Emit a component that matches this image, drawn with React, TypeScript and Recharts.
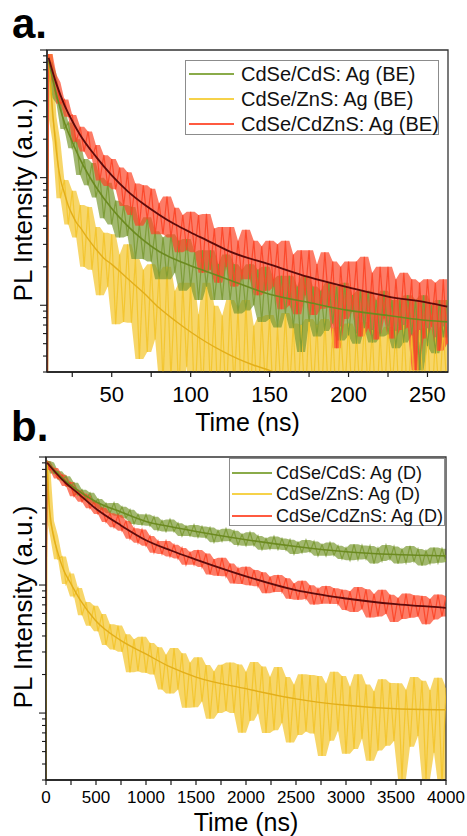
import React from 'react';
import { ComposedChart, Line, Area, XAxis, YAxis, ReferenceArea } from 'recharts';

const FONT = '"Liberation Sans", Arial, Helvetica, sans-serif';

// ---------- Panel a (band-edge emission, 0-263 ns) ----------
const timeA = [9.3, 10, 12.5, 15, 17.5, 20, 22.5, 25, 27.5, 30, 32.5, 35, 37.5, 40, 42.5, 45, 47.5, 50, 52.5, 55, 57.5, 60, 62.5, 65, 67.5, 70, 72.5, 75, 77.5, 80, 82.5, 85, 87.5, 90, 92.5, 95, 97.5, 100, 102.5, 105, 107.5, 110, 112.5, 115, 117.5, 120, 122.5, 125, 127.5, 130, 132.5, 135, 137.5, 140, 142.5, 145, 147.5, 150, 152.5, 155, 157.5, 160, 162.5, 165, 167.5, 170, 172.5, 175, 177.5, 180, 182.5, 185, 187.5, 190, 192.5, 195, 197.5, 200, 202.5, 205, 207.5, 210, 212.5, 215, 217.5, 220, 222.5, 225, 227.5, 230, 232.5, 235, 237.5, 240, 242.5, 245, 247.5, 250, 252.5, 255, 257.5, 260, 262.5];

const cdsA = [0.002, 0.80, 0.65, 0.42, 0.38, 0.24, 0.27, 0.17, 0.20, 0.105, 0.14,
  0.087, 0.13, 0.070, 0.10, 0.048, 0.091, 0.043, 0.066, 0.034, 0.061,
  0.035, 0.059, 0.023, 0.043, 0.023, 0.049, 0.022, 0.038, 0.016, 0.034,
  0.016, 0.036, 0.018, 0.032, 0.013, 0.033, 0.014, 0.026, 0.011, 0.027,
  0.014, 0.027, 0.011, 0.021, 0.011, 0.025, 0.011, 0.021, 0.0086, 0.019,
  0.0091, 0.021, 0.010, 0.019, 0.0074, 0.020, 0.0078, 0.016, 0.0067, 0.017,
  0.0086, 0.017, 0.0066, 0.014, 0.0043, 0.017, 0.0074, 0.014, 0.0057, 0.013,
  0.0063, 0.015, 0.0072, 0.014, 0.0053, 0.015, 0.0058, 0.012, 0.0050, 0.013,
  0.0066, 0.013, 0.0051, 0.011, 0.0057, 0.013, 0.0059, 0.011, 0.0046, 0.011,
  0.0051, 0.012, 0.0059, 0.011, 0.0031, 0.012, 0.0048, 0.0100, 0.0042, 0.011,
  0.0056, 0.011];

const znsA = [0.002, 0.93, 0.30, 0.19, 0.069, 0.096, 0.043, 0.079, 0.034, 0.061, 0.020,
  0.059, 0.019, 0.041, 0.012, 0.037, 0.014, 0.036, 0.0071, 0.025, 0.0074,
  0.030, 0.0073, 0.023, 0.0038, 0.019, 0.0043, 0.021, 0.0054, 0.018, 0.0024,
  0.020, 0.0027, 0.013, 0.0019, 0.015, 0.0033, 0.015, 0.0014, 0.0085, 0.0018,
  0.015, 0.0021, 0.0099, 0.0013, 0.0083, 0.0016, 0.011, 0.0022, 0.0095, 0.0013,
  0.011, 0.0016, 0.0069, 0.0013, 0.0081, 0.0021, 0.0084, 0.0014, 0.0068, 0.0018,
  0.0087, 0.0020, 0.0072, 0.0013, 0.0070, 0.0016, 0.0078, 0.0020, 0.0070, 0.0013,
  0.0078, 0.0016, 0.0066, 0.0013, 0.0068, 0.0019, 0.0072, 0.0014, 0.0060, 0.0018,
  0.0074, 0.0020, 0.0064, 0.0013, 0.0060, 0.0016, 0.0068, 0.0021, 0.0063, 0.0013,
  0.0070, 0.0016, 0.0058, 0.0013, 0.0064, 0.0021, 0.0066, 0.0014, 0.0056, 0.0018,
  0.0068, 0.0020];

const cdznsA = [0.002, 0.93, 0.64, 0.56, 0.38, 0.41, 0.30, 0.31, 0.19, 0.25, 0.16,
  0.23, 0.14, 0.18, 0.095, 0.15, 0.086, 0.14, 0.081, 0.12, 0.060,
  0.11, 0.051, 0.090, 0.042, 0.087, 0.047, 0.082, 0.036, 0.063, 0.036,
  0.071, 0.034, 0.058, 0.026, 0.051, 0.027, 0.054, 0.026, 0.051, 0.018,
  0.052, 0.019, 0.040, 0.015, 0.041, 0.020, 0.041, 0.014, 0.032, 0.016,
  0.039, 0.016, 0.032, 0.012, 0.029, 0.013, 0.032, 0.014, 0.030, 0.0093,
  0.032, 0.010, 0.025, 0.0085, 0.027, 0.012, 0.027, 0.0084, 0.021, 0.0094,
  0.026, 0.0097, 0.022, 0.0046, 0.020, 0.0078, 0.022, 0.0090, 0.022, 0.0057,
  0.024, 0.0066, 0.018, 0.0054, 0.020, 0.0079, 0.020, 0.0055, 0.016, 0.0064,
  0.018, 0.0067, 0.016, 0.0031, 0.015, 0.0055, 0.016, 0.0068, 0.015, 0.0044,
  0.016, 0.0050];

const fitTimeA = [10, 15, 20, 25, 30, 40, 50, 60, 70, 80, 90, 100, 110, 125, 150, 175, 200, 225, 250, 262.5];
const cdsFitA = [0.83, 0.447, 0.272, 0.191, 0.139, 0.0845, 0.0573, 0.0419, 0.0324, 0.0264, 0.0229, 0.0204, 0.0184, 0.0157, 0.0122, 0.0105, 0.00912, 0.00832, 0.00759, 0.00741];
const cdznsFitA = [0.87, 0.54, 0.372, 0.278, 0.216, 0.146, 0.104, 0.0785, 0.0624, 0.0513, 0.0431, 0.0372, 0.0324, 0.0263, 0.0209, 0.0166, 0.0138, 0.0117, 0.0105, 0.00977];
const znsFitTimeA = [10, 12.5, 15, 17.5, 20, 22.5, 25, 27.5, 30, 35, 40, 45, 50, 60, 70, 80, 90, 100, 110, 120, 130, 140, 150, 160, 175, 200];
const znsFitA = [0.87, 0.339, 0.158, 0.0977, 0.0759, 0.0603, 0.0513, 0.0447, 0.0407, 0.0331, 0.0275, 0.0234, 0.0209, 0.0162, 0.0126, 0.00955, 0.00759, 0.00617, 0.00513, 0.00437, 0.0038, 0.00339, 0.00309, 0.00275, 0.00234, 0.00182];

// ---------- Panel b (dopant emission, 0-4000 ns) ----------
const timeB = [0, 12, 40, 80, 120, 160, 200, 240, 280, 320, 360, 400, 440, 480, 520, 560, 600, 640, 680, 720, 760, 800, 840, 880, 920, 960, 1000, 1040, 1080, 1120, 1160, 1200, 1240, 1280, 1320, 1360, 1400, 1440, 1480, 1520, 1560, 1600, 1640, 1680, 1720, 1760, 1800, 1840, 1880, 1920, 1960, 2000, 2040, 2080, 2120, 2160, 2200, 2240, 2280, 2320, 2360, 2400, 2440, 2480, 2520, 2560, 2600, 2640, 2680, 2720, 2760, 2800, 2840, 2880, 2920, 2960, 3000, 3040, 3080, 3120, 3160, 3200, 3240, 3280, 3320, 3360, 3400, 3440, 3480, 3520, 3560, 3600, 3640, 3680, 3720, 3760, 3800, 3840, 3880, 3920, 3960, 4000];

const cdsB = [0.09, 0.93,
  0.906, 0.743, 0.773, 0.659, 0.708, 0.583, 0.628, 0.504, 0.555, 0.466,
  0.525, 0.433, 0.47, 0.39, 0.435, 0.364, 0.438, 0.348, 0.408, 0.333,
  0.387, 0.300, 0.357, 0.295, 0.356, 0.29, 0.342, 0.268, 0.318, 0.262,
  0.325, 0.262, 0.304, 0.242, 0.289, 0.242, 0.295, 0.236, 0.287, 0.234,
  0.281, 0.216, 0.267, 0.22, 0.275, 0.221, 0.265, 0.205, 0.249, 0.203,
  0.258, 0.204, 0.242, 0.189, 0.231, 0.191, 0.239, 0.19, 0.231, 0.188,
  0.226, 0.175, 0.216, 0.179, 0.225, 0.182, 0.219, 0.169, 0.207, 0.169,
  0.215, 0.171, 0.203, 0.16, 0.195, 0.156, 0.208, 0.158, 0.204, 0.16,
  0.202, 0.147, 0.194, 0.154, 0.205, 0.159, 0.2, 0.147, 0.19, 0.149,
  0.202, 0.153, 0.191, 0.142, 0.185, 0.147, 0.196, 0.149, 0.192, 0.151];

const znsB = [0.002, 0.88,
  0.316, 0.243, 0.159, 0.167, 0.102, 0.123, 0.0813, 0.0948, 0.0581, 0.0738,
  0.0481, 0.0689, 0.0435, 0.0593, 0.034, 0.0493, 0.0313, 0.0482, 0.0301, 0.0412,
  0.0208, 0.0377, 0.0212, 0.0394, 0.0206, 0.0353, 0.02, 0.0327, 0.0153, 0.0286,
  0.0142, 0.0322, 0.0153, 0.0293, 0.011, 0.0248, 0.0111, 0.0273, 0.0123, 0.0237,
  0.00902, 0.0212, 0.01, 0.0238, 0.0104, 0.0248, 0.01, 0.024, 0.00703, 0.021,
  0.00869, 0.025, 0.00991, 0.0231, 0.00698, 0.0192, 0.00735, 0.0229, 0.00838, 0.0191,
  0.0059, 0.0167, 0.00675, 0.0201, 0.00718, 0.0198, 0.00693, 0.0195, 0.00462, 0.017,
  0.00607, 0.021, 0.00723, 0.0195, 0.00481, 0.0161, 0.00525, 0.0201, 0.0063, 0.0167,
  0.00424, 0.0148, 0.00509, 0.0184, 0.00555, 0.0172, 0.00605, 0.0171, 0.00306, 0.0152,
  0.00546, 0.0191, 0.00661, 0.0179, 0.00303, 0.0151, 0.00491, 0.0189, 0.00274, 0.0158];

const cdznsB = [0.06, 0.93,
  0.792, 0.82, 0.678, 0.728, 0.594, 0.637, 0.493, 0.551, 0.447, 0.509,
  0.398, 0.445, 0.359, 0.402, 0.311, 0.364, 0.283, 0.352, 0.266, 0.317,
  0.23, 0.278, 0.214, 0.271, 0.203, 0.241, 0.179, 0.221, 0.175, 0.221,
  0.167, 0.206, 0.161, 0.195, 0.144, 0.18, 0.144, 0.188, 0.138, 0.176,
  0.121, 0.159, 0.118, 0.163, 0.117, 0.147, 0.103, 0.135, 0.102, 0.139,
  0.0995, 0.131, 0.0977, 0.126, 0.0863, 0.116, 0.0881, 0.12, 0.0883, 0.113,
  0.078, 0.103, 0.0767, 0.108, 0.0782, 0.0995, 0.0703, 0.0935, 0.0715, 0.0984,
  0.0713, 0.0944, 0.071, 0.092, 0.0638, 0.0893, 0.0617, 0.0964, 0.0647, 0.0927,
  0.0558, 0.0851, 0.0568, 0.0918, 0.0596, 0.0841, 0.0515, 0.0793, 0.0543, 0.0859,
  0.0555, 0.0832, 0.0568, 0.0822, 0.0493, 0.0778, 0.0538, 0.0843, 0.0568, 0.0817];

const fitTimeB = [12, 100, 200, 300, 500, 750, 1000, 1250, 1500, 2000, 2500, 3000, 3500, 4000];
const cdsFitB = [0.902, 0.767, 0.646, 0.562, 0.447, 0.372, 0.314, 0.285, 0.262, 0.226, 0.200, 0.182, 0.173, 0.169];
const cdznsFitB = [0.902, 0.750, 0.624, 0.537, 0.394, 0.292, 0.224, 0.186, 0.158, 0.117, 0.0912, 0.0785, 0.0708, 0.0664];
const znsFitTimeB = [12, 25, 43, 70, 110, 176, 250, 343, 493, 743, 993, 1243, 1500, 2000, 2500, 3000, 3500, 4000];
const znsFitB = [0.871, 0.501, 0.344, 0.251, 0.188, 0.131, 0.102, 0.0762, 0.0531, 0.0371, 0.0291, 0.0229, 0.0191, 0.0155, 0.0129, 0.0115, 0.0108, 0.0106];

// ---------- axes ----------
const yTicks = [0.003, 0.004, 0.005, 0.006, 0.007, 0.008, 0.009, 0.01, 0.02, 0.03, 0.04, 0.05, 0.06, 0.07, 0.08, 0.09, 0.1, 0.2, 0.3, 0.4, 0.5, 0.6, 0.7, 0.8, 0.9, 1];
const xTicksA = [25, 50, 75, 100, 125, 150, 175, 200, 225, 250];
const xTicksB = [0, 250, 500, 750, 1000, 1250, 1500, 1750, 2000, 2250, 2500, 2750, 3000, 3250, 3500, 3750, 4000];

const legendA = ['CdSe/CdS: Ag (BE)', 'CdSe/ZnS: Ag (BE)', 'CdSe/CdZnS: Ag (BE)'];
const legendB = ['CdSe/CdS: Ag (D)', 'CdSe/ZnS: Ag (D)', 'CdSe/CdZnS: Ag (D)'];

const COLORS = {
  cds: '#7b9a33',
  cdsFit: '#6b8a1f',
  cdsLegend: '#8aab4a',
  zns: '#f3c42a',
  znsFit: '#e3ae18',
  znsLegend: '#f6d24a',
  cdzns: '#fc4426',
  cdznsFit: '#5e0a0a',
  cdznsLegend: '#ff5a40',
};
const legendColors = [COLORS.cdsLegend, COLORS.znsLegend, COLORS.cdznsLegend];

const pts = (ts: number[], vs: number[]) =>
  ts.map((t, i) => ({ t, v: vs[i] })).filter((p) => typeof p.v === 'number');

// noisy trace + the envelope of each point's neighbourhood (from the same values)
const noisyPts = (ts: number[], vs: number[]) =>
  ts.map((t, i) => {
    const w: number[] = [];
    for (let k = i - 1; k <= i + 1; k++) {
      if (k >= 1 && k < vs.length) w.push(vs[k]);
    }
    return { t, v: vs[i], band: i >= 1 ? [Math.min(...w), Math.max(...w)] : null };
  });

const AXIS = '#1a1a1a';

function YTick(props: any) {
  const { x, y, payload } = props;
  const lg = Math.log10(payload.value);
  const major = Math.abs(lg - Math.round(lg)) < 1e-6;
  const len = major ? 7 : 4;
  return <line x1={x} x2={x - len} y1={y} y2={y} stroke={AXIS} strokeWidth={1.1} />;
}

function XTick(props: any) {
  const { x, y, payload, every, labelDy, labelSize } = props;
  const v = payload.value;
  const major = v % every === 0;
  return (
    <g>
      <line x1={x} x2={x} y1={y} y2={y + 5} stroke={AXIS} strokeWidth={1.2} />
      {major && (
        <text x={x} y={y + labelDy} textAnchor="middle" fontSize={labelSize} fontFamily={FONT} fill="#000">
          {v}
        </text>
      )}
    </g>
  );
}

const yTitle = (cy: number) => () => (
  <text
    transform={`translate(23, ${cy}) rotate(-90)`}
    textAnchor="middle"
    dominantBaseline="central"
    fontSize={26}
    fontFamily={FONT}
    fill="#000"
  >
    PL Intensity (a.u.)
  </text>
);

function LegendBox(props: { left: number; top: number; width: number; height: number; rows: number[]; names: string[]; fontSize: number; lineX: number; lineW: number; textX: number }) {
  const { left, top, width, height, rows, names, fontSize, lineX, lineW, textX } = props;
  return (
    <div
      style={{
        position: 'absolute', left, top, width, height, boxSizing: 'border-box',
        border: '1px solid #8c8c8c', background: '#fff',
      }}
    >
      {names.map((n, i) => (
        <React.Fragment key={n}>
          <div style={{ position: 'absolute', left: lineX, top: rows[i] - 1, width: lineW, height: 2, background: legendColors[i] }} />
          <div
            style={{
              position: 'absolute', left: textX, top: rows[i] - fontSize * 0.49, fontSize, lineHeight: `${fontSize}px`,
              fontFamily: FONT, color: '#111', whiteSpace: 'nowrap',
            }}
          >
            {n}
          </div>
        </React.Fragment>
      ))}
    </div>
  );
}

function NoisySeries(ts: number[], vs: number[], color: string, key: string) {
  const d = noisyPts(ts, vs);
  return [
    <Area
      key={key + '-band'} data={d} dataKey="band" type="linear" stroke="none" fill={color} fillOpacity={0.7}
      isAnimationActive={false} dot={false} activeDot={false} connectNulls={false}
    />,
    <Line
      key={key + '-line'} data={d} dataKey="v" type="linear" stroke={color} strokeWidth={1.2} strokeOpacity={0.9}
      isAnimationActive={false} dot={false} activeDot={false}
    />,
  ];
}

export default function App() {
  const fit = { type: 'monotone' as const, dataKey: 'v', dot: false, isAnimationActive: false };

  return (
    <div style={{ position: 'absolute', left: 0, top: 0, width: 467, height: 836, background: '#fff', fontFamily: FONT }}>
      {/* Panel a */}
      <div style={{ position: 'absolute', left: 0, top: 0 }}>
        <ComposedChart width={467} height={445} margin={{ top: 50, right: 19, bottom: 0, left: 0 }}>
          <XAxis
            type="number" dataKey="t" domain={[9, 263]} allowDataOverflow ticks={xTicksA} interval={0}
            tickSize={0} tickMargin={0} tickLine={false} height={73}
            axisLine={{ stroke: AXIS, strokeWidth: 1.3 }}
            tick={<XTick every={50} labelDy={30} labelSize={22} />}
            label={{ value: 'Time (ns)', position: 'insideBottom', offset: 14, fontSize: 25, fill: '#000', fontFamily: FONT }}
          />
          <YAxis
            type="number" scale="log" domain={[0.003, 1]} allowDataOverflow ticks={yTicks} interval={0}
            tickSize={0} tickMargin={0} tickLine={false} width={47}
            axisLine={{ stroke: AXIS, strokeWidth: 1.3 }}
            tick={<YTick />}
            label={{ content: yTitle(200) }}
          />
          {NoisySeries(timeA, znsA, COLORS.zns, 'znsA')}
          {NoisySeries(timeA, cdsA, COLORS.cds, 'cdsA')}
          {NoisySeries(timeA, cdznsA, COLORS.cdzns, 'cdznsA')}
          <Line {...fit} data={pts(znsFitTimeA, znsFitA)} stroke={COLORS.znsFit} strokeWidth={1.4} />
          <Line {...fit} data={pts(fitTimeA, cdsFitA)} stroke={COLORS.cdsFit} strokeWidth={1.6} />
          <Line {...fit} data={pts(fitTimeA, cdznsFitA)} stroke={COLORS.cdznsFit} strokeWidth={1.8} />
          <ReferenceArea x1={9} x2={263} y1={0.003} y2={1} fill="none" stroke="#333" strokeWidth={1.3} />
        </ComposedChart>
      </div>

      {/* Panel b */}
      <div style={{ position: 'absolute', left: 0, top: 445 }}>
        <ComposedChart width={467} height={391} margin={{ top: 12, right: 21, bottom: 0, left: 0 }}>
          <XAxis
            type="number" dataKey="t" domain={[0, 4000]} allowDataOverflow ticks={xTicksB} interval={0}
            tickSize={0} tickMargin={0} tickLine={false} height={56}
            axisLine={{ stroke: AXIS, strokeWidth: 1.3 }}
            tick={<XTick every={500} labelDy={23} labelSize={17} />}
            label={{ value: 'Time (ns)', position: 'insideBottom', offset: 5, fontSize: 25, fill: '#000', fontFamily: FONT }}
          />
          <YAxis
            type="number" scale="log" domain={[0.003, 1]} allowDataOverflow ticks={yTicks} interval={0}
            tickSize={0} tickMargin={0} tickLine={false} width={46}
            axisLine={{ stroke: AXIS, strokeWidth: 1.3 }}
            tick={<YTick />}
            label={{ content: yTitle(162) }}
          />
          {NoisySeries(timeB, znsB, COLORS.zns, 'znsB')}
          {NoisySeries(timeB, cdsB, COLORS.cds, 'cdsB')}
          {NoisySeries(timeB, cdznsB, COLORS.cdzns, 'cdznsB')}
          <Line {...fit} data={pts(znsFitTimeB, znsFitB)} stroke={COLORS.znsFit} strokeWidth={1.4} />
          <Line {...fit} data={pts(fitTimeB, cdsFitB)} stroke={COLORS.cdsFit} strokeWidth={1.6} />
          <Line {...fit} data={pts(fitTimeB, cdznsFitB)} stroke={COLORS.cdznsFit} strokeWidth={1.8} />
          <ReferenceArea x1={0} x2={4000} y1={0.003} y2={1} fill="none" stroke="#333" strokeWidth={1.3} />
        </ComposedChart>
      </div>

      <LegendBox left={185} top={60} width={254} height={75} rows={[13, 38, 63]} names={legendA} fontSize={20} lineX={3} lineW={45} textX={55} />
      <LegendBox left={229} top={458} width={216} height={68} rows={[13.5, 35, 57]} names={legendB} fontSize={18} lineX={2} lineW={40} textX={46} />

      <div style={{ position: 'absolute', left: 12, top: 3, fontSize: 42, fontWeight: 'bold', lineHeight: '42px', fontFamily: FONT, color: '#000' }}>a.</div>
      <div style={{ position: 'absolute', left: 11, top: 406, fontSize: 42, fontWeight: 'bold', lineHeight: '42px', fontFamily: FONT, color: '#000' }}>b.</div>
    </div>
  );
}
